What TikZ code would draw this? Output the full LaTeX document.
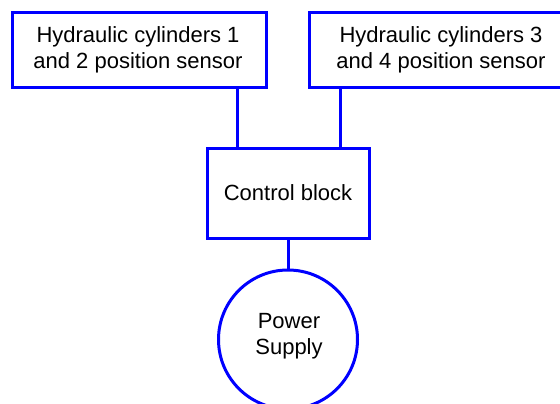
\documentclass[tikz,border=0pt]{standalone}
\usepackage{fontspec}
\setmainfont{Liberation Sans}
\begin{document}
\begin{tikzpicture}[x=1pt,y=-1pt,
  blk/.style={draw=blue, line width=3pt, fill=white, inner sep=0pt},
  lbl/.style={font=\fontsize{22}{26}\selectfont, align=center, text=black},
  wire/.style={draw=blue, line width=3pt}]
\clip (0,0) rectangle (560,404);
\useasboundingbox (0,0) rectangle (560,404);
\fill[white] (0,0) rectangle (560,404);
% boxes
\node[blk, minimum width=254pt, minimum height=75pt] (s12) at (139,50.5) {};
\node[blk, minimum width=262pt, minimum height=75pt] (s34) at (440,50.5) {};
\node[blk, minimum width=162pt, minimum height=90pt] (cb) at (288,193) {};
\node[draw=blue, line width=3pt, circle, minimum size=139pt, inner sep=0pt] (ps) at (288,339.5) {};
% labels
\node[lbl] at (138,50) {Hydraulic cylinders 1\\and 2 position sensor};
\node[lbl] at (441,50) {Hydraulic cylinders 3\\and 4 position sensor};
\node[lbl] at (cb.center) {Control block};
\node[lbl] at (289,336) {Power\\Supply};
% wires
\coordinate (a1) at (237,0);
\coordinate (a2) at (340,0);
\draw[wire] (s12.south -| a1) -- (cb.north -| a1);
\draw[wire] (s34.south -| a2) -- (cb.north -| a2);
\draw[wire] (cb.south) -- (ps.north);
\end{tikzpicture}
\end{document}
